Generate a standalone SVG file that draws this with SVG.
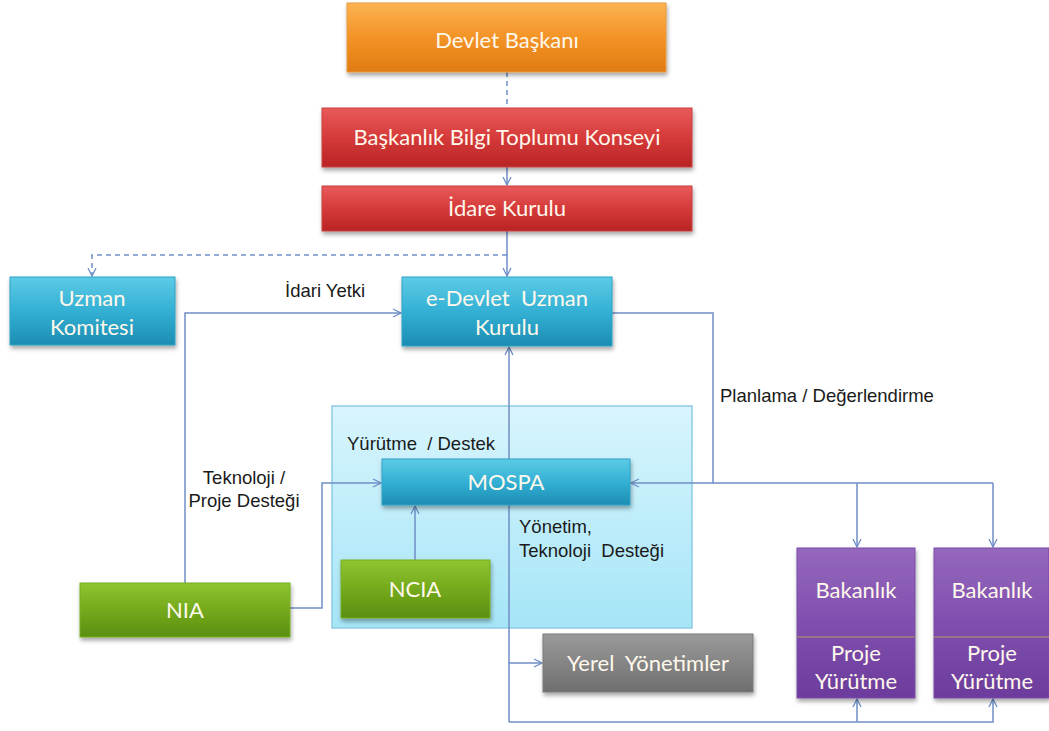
<svg xmlns="http://www.w3.org/2000/svg" width="1049" height="731" viewBox="0 0 1049 731">
<defs>
<linearGradient id="gOr" x1="0" y1="0" x2="0" y2="1"><stop offset="0" stop-color="#fbb352"/><stop offset="0.5" stop-color="#f39326"/><stop offset="1" stop-color="#e07b12"/></linearGradient>
<linearGradient id="gRd" x1="0" y1="0" x2="0" y2="1"><stop offset="0" stop-color="#e85a5a"/><stop offset="0.5" stop-color="#d63a3a"/><stop offset="1" stop-color="#b82424"/></linearGradient>
<linearGradient id="gCy" x1="0" y1="0" x2="0" y2="1"><stop offset="0" stop-color="#5ccbe6"/><stop offset="0.5" stop-color="#33b0d4"/><stop offset="1" stop-color="#1c8db2"/></linearGradient>
<linearGradient id="gGr" x1="0" y1="0" x2="0" y2="1"><stop offset="0" stop-color="#8fc530"/><stop offset="0.5" stop-color="#74aa1c"/><stop offset="1" stop-color="#5a8e10"/></linearGradient>
<linearGradient id="gGy" x1="0" y1="0" x2="0" y2="1"><stop offset="0" stop-color="#9a9a9a"/><stop offset="0.5" stop-color="#858585"/><stop offset="1" stop-color="#6e6e6e"/></linearGradient>
<linearGradient id="gPu" x1="0" y1="0" x2="0" y2="1"><stop offset="0" stop-color="#9568bd"/><stop offset="0.5" stop-color="#7f4fae"/><stop offset="1" stop-color="#6c3c9c"/></linearGradient>
<linearGradient id="gCt" x1="0" y1="0" x2="0" y2="1"><stop offset="0" stop-color="#d8f5fd"/><stop offset="1" stop-color="#a6e5f7"/></linearGradient>
<filter id="sh" x="-10%" y="-10%" width="125%" height="135%"><feDropShadow dx="1" dy="3" stdDeviation="2" flood-color="#000" flood-opacity="0.35"/></filter>
<marker id="ar" viewBox="0 0 10 10" refX="9" refY="5" markerWidth="10" markerHeight="10" markerUnits="userSpaceOnUse" orient="auto"><path d="M1,1 L9,5 L1,9" fill="none" stroke="#6f8fc6" stroke-width="1.3"/></marker>
<style>
.bx{filter:url(#sh);stroke-width:1}
.nt{font-family:Lato,"Noto Sans","DejaVu Sans",sans-serif;font-size:22px;fill:#fff8ec;text-anchor:middle;white-space:pre}
.lb{font-family:"Liberation Sans",Arial,sans-serif;font-size:18.5px;fill:#1a1a1a;white-space:pre}
.cn{fill:none;stroke:#6f8fc6;stroke-width:1.5}
.dh{stroke-dasharray:5,4}
</style>
</defs>
<rect width="1049" height="731" fill="#ffffff"/>

<g id="container">
<rect x="332" y="406" width="360" height="222" fill="url(#gCt)" stroke="#8ccbe3" stroke-width="1.5"/>
</g>

<g id="connectors">
<path class="cn dh" d="M507,72 V107"/>
<path class="cn" d="M507,167 V185" marker-end="url(#ar)"/>
<path class="cn" d="M507,231 V276" marker-end="url(#ar)"/>
<path class="cn dh" d="M507,255 H92 V276" marker-end="url(#ar)"/>
<path class="cn" d="M185,583 V313 H401" marker-end="url(#ar)"/>
<path class="cn" d="M612,313 H713 V483"/>
<path class="cn" d="M993,483 H631" marker-end="url(#ar)"/>
<path class="cn" d="M993,483 V547" marker-end="url(#ar)"/>
<path class="cn" d="M857,483 V547" marker-end="url(#ar)"/>
<path class="cn" d="M509,722 V347" marker-end="url(#ar)"/>
<path class="cn" d="M509,663 H542" marker-end="url(#ar)"/>
<path class="cn" d="M509,722 H993 V699" marker-end="url(#ar)"/>
<path class="cn" d="M857,722 V699" marker-end="url(#ar)"/>
<path class="cn" d="M415,560 V506" marker-end="url(#ar)"/>
<path class="cn" d="M290,608 H322 V483 H381" marker-end="url(#ar)"/>
</g>

<g id="labels">
<text class="lb" x="285" y="297">İdari Yetki</text>
<text class="lb" x="720" y="402">Planlama / Değerlendirme</text>
<text class="lb" x="347" y="450" xml:space="preserve">Yürütme  / Destek</text>
<text class="lb" x="244" y="484" text-anchor="middle">Teknoloji /</text>
<text class="lb" x="244" y="507" text-anchor="middle">Proje Desteği</text>
<text class="lb" x="519" y="533">Yönetim,</text>
<text class="lb" x="519" y="557" xml:space="preserve">Teknoloji  Desteği</text>
</g>

<g id="devlet-baskani">
<rect class="bx" x="347" y="3" width="319" height="69" fill="url(#gOr)" stroke="#e89a3c"/>
<text class="nt" x="507" y="48">Devlet Başkanı</text>
</g>
<g id="baskanlik-konseyi">
<rect class="bx" x="322" y="108" width="370" height="59" fill="url(#gRd)" stroke="#c84040"/>
<text class="nt" x="507" y="145">Başkanlık Bilgi Toplumu Konseyi</text>
</g>
<g id="idare-kurulu">
<rect class="bx" x="322" y="186" width="370" height="45" fill="url(#gRd)" stroke="#c84040"/>
<text class="nt" x="507" y="216">İdare Kurulu</text>
</g>
<g id="uzman-komitesi">
<rect class="bx" x="10" y="277" width="165" height="68" fill="url(#gCy)" stroke="#2ea2c6"/>
<text class="nt" x="92" y="306">Uzman</text>
<text class="nt" x="92" y="335">Komitesi</text>
</g>
<g id="edevlet-uzman-kurulu">
<rect class="bx" x="402" y="277" width="210" height="69" fill="url(#gCy)" stroke="#2ea2c6"/>
<text class="nt" x="507" y="306" xml:space="preserve">e-Devlet  Uzman</text>
<text class="nt" x="507" y="335">Kurulu</text>
</g>
<g id="mospa">
<rect class="bx" x="382" y="459" width="248" height="46" fill="url(#gCy)" stroke="#2ea2c6"/>
<text class="nt" x="506" y="490">MOSPA</text>
</g>
<g id="ncia">
<rect class="bx" x="341" y="560" width="149" height="58" fill="url(#gGr)" stroke="#78ad20"/>
<text class="nt" x="415" y="597">NCIA</text>
</g>
<g id="nia">
<rect class="bx" x="80" y="583" width="210" height="54" fill="url(#gGr)" stroke="#78ad20"/>
<text class="nt" x="185" y="618">NIA</text>
</g>
<g id="yerel-yonetimler">
<rect class="bx" x="543" y="634" width="210" height="58" fill="url(#gGy)" stroke="#7a7a7a"/>
<text class="nt" x="648" y="671" xml:space="preserve">Yerel  Yönetimler</text>
</g>
<g id="bakanlik-1">
<rect class="bx" x="797" y="548" width="118" height="150" fill="url(#gPu)" stroke="#7a4aa8"/>
<line x1="797" y1="637" x2="915" y2="637" stroke="#a8a060" stroke-width="1"/>
<text class="nt" x="856" y="598">Bakanlık</text>
<text class="nt" x="856" y="661">Proje</text>
<text class="nt" x="856" y="689">Yürütme</text>
</g>
<g id="bakanlik-2">
<rect class="bx" x="934" y="548" width="115" height="150" fill="url(#gPu)" stroke="#7a4aa8"/>
<line x1="934" y1="637" x2="1049" y2="637" stroke="#a8a060" stroke-width="1"/>
<text class="nt" x="992" y="598">Bakanlık</text>
<text class="nt" x="992" y="661">Proje</text>
<text class="nt" x="992" y="689">Yürütme</text>
</g>
</svg>
